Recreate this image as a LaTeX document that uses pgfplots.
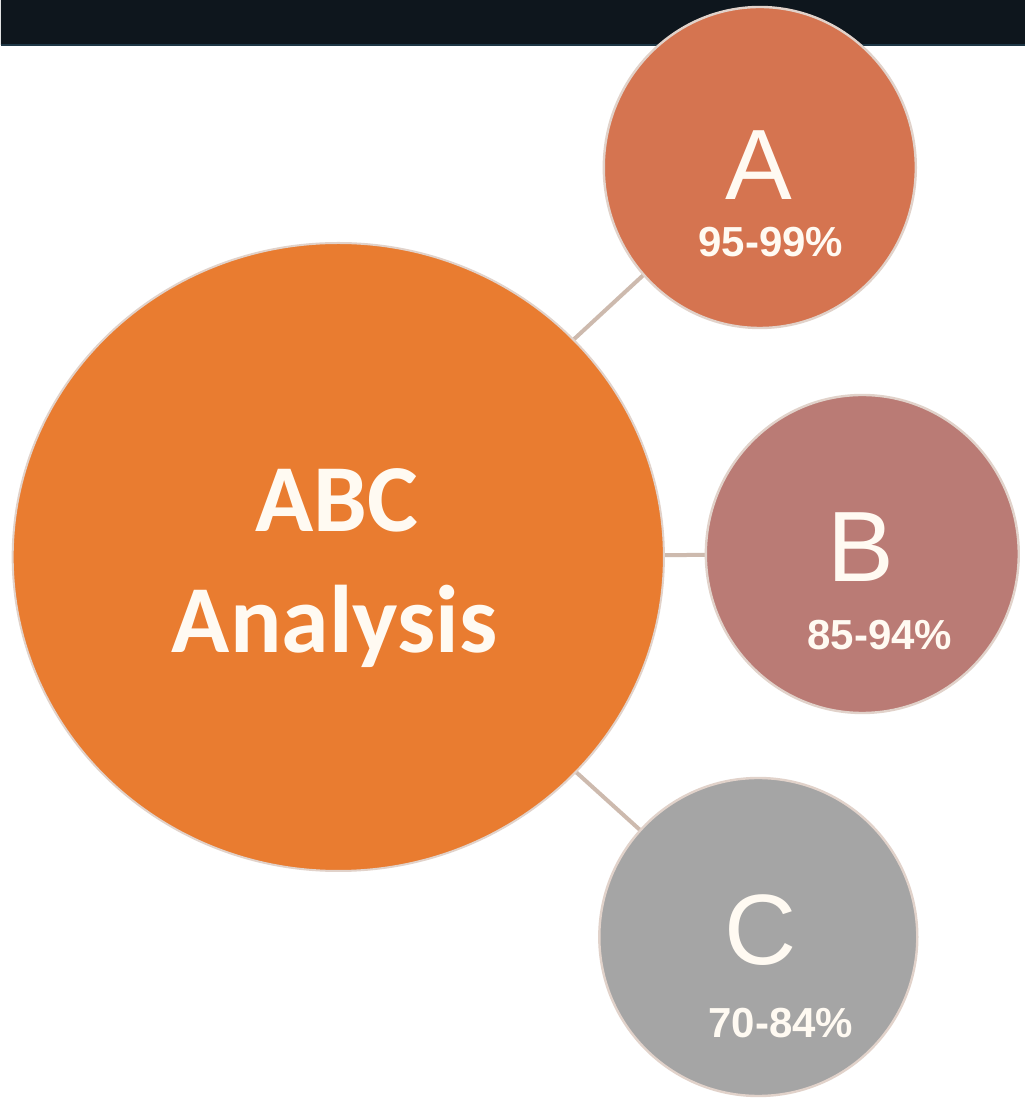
\documentclass[border=0pt]{standalone}
\usepackage{pgfplots}
\pgfplotsset{compat=1.18}
\usepackage{fontspec}
\setmainfont{Liberation Sans}
\newfontfamily\carlito{Carlito}
\definecolor{band}{RGB}{14,22,29}
\definecolor{bandline}{RGB}{30,55,70}
\definecolor{bigc}{RGB}{233,124,48}
\definecolor{ac}{RGB}{213,116,80}
\definecolor{bc}{RGB}{186,123,117}
\definecolor{cc}{RGB}{165,165,165}
\definecolor{rim}{RGB}{225,210,202}
\definecolor{conn}{RGB}{205,186,174}
\definecolor{txt}{RGB}{255,250,242}
\begin{document}
\begin{tikzpicture}
\begin{axis}[width=512pt,height=549pt,scale only axis,
  xmin=0,xmax=1024,ymin=0,ymax=1098,hide axis,clip=false]
% background and top band
\addplot[fill=white,draw=none] coordinates {(0,0)(1024,0)(1024,1098)(0,1098)(0,0)};
\addplot[fill=band,draw=none] coordinates {(0,1053)(1024,1053)(1024,1098)(0,1098)(0,1053)};
\addplot[draw=bandline,line width=0.8pt] coordinates {(0,1053)(1024,1053)};
% connectors (centre to centre)
\addplot[draw=conn,line width=2pt] coordinates {(337.5,541)(759,930.5)};
\addplot[draw=conn,line width=2pt] coordinates {(337.5,541)(861.5,544)};
\addplot[draw=conn,line width=2pt] coordinates {(337.5,541)(757.5,161)};
% circles
\addplot[only marks,mark=*,mark size=157pt,
  mark options={xscale=1.037,fill=bigc,draw=rim,line width=1pt}] coordinates {(337.5,541)};
\addplot[only marks,mark=*,mark size=80.25pt,
  mark options={xscale=0.972,fill=ac,draw=rim,line width=1.2pt}] coordinates {(759,930.5)};
\addplot[only marks,mark=*,mark size=79.5pt,
  mark options={xscale=0.984,fill=bc,draw=rim,line width=1.2pt}] coordinates {(861.5,544)};
\addplot[only marks,mark=*,mark size=79.5pt,
  mark options={xscale=1.0,fill=cc,draw=rim,line width=1.2pt}] coordinates {(757.5,161)};
% anchor points for the texts
\coordinate (t1) at (axis cs:336,566);
\coordinate (t2) at (axis cs:334,445);
\coordinate (t3) at (axis cs:758,898);
\coordinate (t4) at (axis cs:770,841);
\coordinate (t5) at (axis cs:860,516);
\coordinate (t6) at (axis cs:879,448);
\coordinate (t7) at (axis cs:760,133);
\coordinate (t8) at (axis cs:780,60);
\end{axis}
\node[anchor=base,text=txt,font={\carlito\bfseries\fontsize{48pt}{58pt}\selectfont}] at (t1) {ABC};
\node[anchor=base,text=txt,font={\carlito\bfseries\fontsize{48pt}{58pt}\selectfont}] at (t2) {Analysis};
\node[anchor=base,text=txt,font={\fontsize{50pt}{60pt}\selectfont}] at (t3) {A};
\node[anchor=base,text=txt,font={\bfseries\fontsize{21pt}{25pt}\selectfont}] at (t4) {95-99\%};
\node[anchor=base,text=txt,font={\fontsize{50pt}{60pt}\selectfont}] at (t5) {B};
\node[anchor=base,text=txt,font={\bfseries\fontsize{21pt}{25pt}\selectfont}] at (t6) {85-94\%};
\node[anchor=base,text=txt,font={\fontsize{50pt}{60pt}\selectfont}] at (t7) {C};
\node[anchor=base,text=txt,font={\bfseries\fontsize{21pt}{25pt}\selectfont}] at (t8) {70-84\%};
\end{tikzpicture}
\end{document}
